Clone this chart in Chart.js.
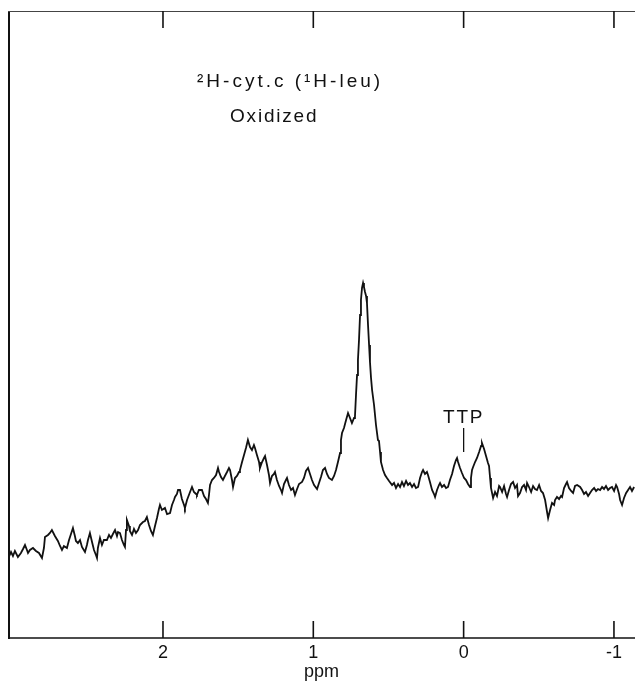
<!DOCTYPE html>
<html>
<head>
<meta charset="utf-8">
<script src="https://cdn.jsdelivr.net/npm/chart.js@4.4.1/dist/chart.umd.min.js"></script>
<style>
  html, body { margin: 0; padding: 0; background: #ffffff; }
  #wrap { width: 635px; height: 685px; position: relative; }
</style>
</head>
<body>
<div id="wrap"><canvas id="spectrum" width="635" height="685"></canvas></div>
<script>
// Chemical shift (ppm) of each sampled point of the trace, high field to the right
const ppm = [
  3.025, 3.011, 2.998, 2.985, 2.965, 2.945, 2.931, 2.918, 2.905, 2.898,
  2.885, 2.865, 2.845, 2.825, 2.805, 2.792, 2.785, 2.765, 2.752, 2.739,
  2.719, 2.699, 2.685, 2.672, 2.659, 2.639, 2.625, 2.612, 2.599, 2.586,
  2.579, 2.566, 2.552, 2.539, 2.519, 2.506, 2.499, 2.486, 2.472, 2.459,
  2.446, 2.439, 2.433, 2.419, 2.406, 2.393, 2.373, 2.359, 2.346, 2.333,
  2.319, 2.306, 2.299, 2.286, 2.273, 2.260, 2.253, 2.246, 2.240, 2.226,
  2.220, 2.206, 2.193, 2.180, 2.166, 2.153, 2.133, 2.120, 2.107, 2.093,
  2.080, 2.067, 2.053, 2.040, 2.027, 2.020, 2.007, 1.987, 1.973, 1.953,
  1.940, 1.927, 1.920, 1.907, 1.900, 1.887, 1.874, 1.860, 1.854, 1.840,
  1.820, 1.807, 1.794, 1.780, 1.774, 1.761, 1.741, 1.727, 1.714, 1.701,
  1.694, 1.687, 1.674, 1.661, 1.647, 1.634, 1.627, 1.614, 1.601, 1.588,
  1.574, 1.561, 1.554, 1.541, 1.534, 1.521, 1.508, 1.494, 1.488, 1.474,
  1.461, 1.448, 1.435, 1.421, 1.408, 1.395, 1.388, 1.375, 1.361, 1.355,
  1.341, 1.328, 1.321, 1.308, 1.295, 1.288, 1.275, 1.262, 1.255, 1.242,
  1.228, 1.215, 1.208, 1.195, 1.182, 1.175, 1.162, 1.148, 1.135, 1.122,
  1.108, 1.095, 1.075, 1.062, 1.049, 1.035, 1.022, 1.009, 0.995, 0.975,
  0.962, 0.949, 0.936, 0.922, 0.909, 0.896, 0.876, 0.862, 0.849, 0.836,
  0.822, 0.816, 0.809, 0.796, 0.782, 0.769, 0.756, 0.743, 0.729, 0.723,
  0.716, 0.709, 0.703, 0.696, 0.689, 0.683, 0.676, 0.669, 0.663, 0.656,
  0.649, 0.643, 0.636, 0.629, 0.623, 0.616, 0.609, 0.596, 0.583, 0.570,
  0.563, 0.556, 0.550, 0.536, 0.523, 0.510, 0.496, 0.476, 0.463, 0.450,
  0.436, 0.423, 0.410, 0.397, 0.383, 0.370, 0.357, 0.343, 0.330, 0.317,
  0.303, 0.290, 0.277, 0.270, 0.257, 0.244, 0.237, 0.224, 0.210, 0.197,
  0.190, 0.177, 0.164, 0.157, 0.144, 0.130, 0.117, 0.104, 0.091, 0.077,
  0.064, 0.051, 0.044, 0.037, 0.024, 0.011, -0.003, -0.016, -0.029, -0.043,
  -0.049, -0.056, -0.063, -0.076, -0.089, -0.103, -0.116, -0.122, -0.136, -0.149,
  -0.162, -0.169, -0.176, -0.182, -0.196, -0.209, -0.222, -0.236, -0.242, -0.256,
  -0.269, -0.282, -0.289, -0.302, -0.315, -0.329, -0.342, -0.355, -0.362, -0.375,
  -0.389, -0.402, -0.415, -0.422, -0.435, -0.449, -0.462, -0.475, -0.488, -0.502,
  -0.515, -0.528, -0.542, -0.555, -0.562, -0.575, -0.588, -0.602, -0.608, -0.621,
  -0.635, -0.648, -0.655, -0.668, -0.681, -0.688, -0.701, -0.715, -0.728, -0.741,
  -0.755, -0.775, -0.788, -0.801, -0.814, -0.828, -0.841, -0.854, -0.868, -0.881,
  -0.894, -0.908, -0.921, -0.934, -0.947, -0.961, -0.974, -0.987, -1.001, -1.014,
  -1.021, -1.034, -1.041, -1.054, -1.067, -1.081, -1.094, -1.107, -1.120, -1.134
];

// Signal intensity (arbitrary units) at each of the shifts above
const signal = [
  81, 86, 82, 87, 81, 85, 89, 93, 88, 85,
  88, 90, 87, 85, 80, 90, 101, 103, 105, 108,
  102, 97, 92, 88, 92, 90, 98, 104, 110, 102,
  97, 95, 98, 91, 86, 93, 98, 105, 96, 88,
  83, 80, 90, 100, 93, 98, 98, 103, 100, 104,
  108, 102, 106, 105, 98, 93, 91, 108, 118, 112,
  107, 103, 109, 105, 108, 113, 116, 117, 121, 113,
  107, 103, 112, 120, 129, 133, 128, 130, 124, 125,
  133, 138, 141, 144, 148, 148, 139, 133, 130, 138,
  146, 151, 146, 144, 143, 148, 148, 142, 139, 135,
  143, 153, 158, 160, 163, 170, 166, 161, 158, 162,
  166, 170, 168, 158, 151, 160, 162, 166, 168, 176,
  183, 190, 198, 191, 188, 193, 190, 183, 176, 170,
  176, 180, 182, 173, 163, 155, 162, 164, 166, 158,
  152, 148, 145, 154, 158, 160, 153, 148, 150, 143,
  149, 154, 156, 160, 167, 170, 164, 158, 153, 149,
  155, 161, 168, 170, 164, 160, 158, 162, 168, 176,
  185, 198, 205, 210, 218, 225, 220, 215, 220, 221,
  243, 263, 278, 298, 323, 338, 350, 355, 351, 346,
  342, 335, 313, 293, 276, 260, 248, 233, 213, 198,
  197, 186, 176, 168, 163, 160, 157, 153, 155, 150,
  154, 151, 156, 152, 157, 153, 155, 151, 154, 150,
  151, 160, 166, 168, 164, 166, 163, 156, 148, 144,
  141, 148, 153, 155, 151, 153, 150, 151, 158, 164,
  172, 178, 180, 176, 170, 165, 160, 158, 154, 151,
  160, 168, 171, 176, 180, 186, 192, 195, 189, 182,
  175, 172, 160, 150, 140, 146, 142, 152, 151, 146,
  152, 144, 141, 148, 154, 156, 150, 153, 142, 145,
  151, 153, 148, 155, 151, 146, 152, 149, 148, 153,
  147, 145, 138, 126, 120, 128, 135, 133, 138, 141,
  139, 142, 141, 150, 154, 156, 150, 147, 145, 152,
  153, 151, 148, 144, 146, 142, 145, 148, 150, 147,
  149, 148, 151, 149, 152, 148, 150, 151, 147, 153,
  151, 144, 138, 133, 140, 145, 148, 151, 147, 151
];

// Axis extent and labelled ticks
const ppmRange = [-1.14, 3.031];
const intensityRange = [0, 627];
const tickValues = [2, 1, 0, -1];
const tickLabels = ['2', '1', '0', '-1'];

// Text annotations
const sampleLines = ['\u00B2H-cyt.c (\u00B9H-leu)', 'Oxidized'];
const markerLabel = 'TTP';
const markerShift = 0;          // ppm of the TTP reference line
const markerSpan = [186, 210];  // intensity range of the reference stroke
const markerTextAt = 215;       // intensity at the label baseline

const ink = '#111111';
const fontFamily = '"Liberation Sans", Arial, sans-serif';

const points = ppm.map((p, i) => ({ x: p, y: signal[i] }));

const framePlugin = {
  id: 'frame',
  afterDraw(chart) {
    const { ctx, chartArea: a, scales } = chart;
    const xs = scales.x, ys = scales.y;
    const spacing = v => { if ('letterSpacing' in ctx) ctx.letterSpacing = v; };
    ctx.save();
    ctx.strokeStyle = ink;
    ctx.lineCap = 'butt';

    // left edge
    ctx.lineWidth = 2;
    ctx.beginPath(); ctx.moveTo(a.left + 1, a.top); ctx.lineTo(a.left + 1, a.bottom + 1); ctx.stroke();
    // bottom edge
    ctx.lineWidth = 1.6;
    ctx.beginPath(); ctx.moveTo(a.left, a.bottom); ctx.lineTo(a.right, a.bottom); ctx.stroke();
    // top edge
    ctx.lineWidth = 1.2;
    ctx.strokeStyle = '#444444';
    ctx.beginPath(); ctx.moveTo(a.left, a.top + 0.5); ctx.lineTo(a.right, a.top + 0.5); ctx.stroke();

    // inward tick marks on both horizontal edges
    ctx.strokeStyle = ink;
    ctx.lineWidth = 1.6;
    tickValues.forEach(v => {
      const px = xs.getPixelForValue(v);
      ctx.beginPath(); ctx.moveTo(px, a.bottom); ctx.lineTo(px, a.bottom - 17); ctx.stroke();
      ctx.beginPath(); ctx.moveTo(px, a.top); ctx.lineTo(px, a.top + 17); ctx.stroke();
    });

    // sample description
    ctx.fillStyle = ink;
    ctx.font = '19px ' + fontFamily;
    ctx.textBaseline = 'alphabetic';
    ctx.textAlign = 'left';
    spacing('3px');
    ctx.fillText(sampleLines[0], a.left + 189, a.top + 76);
    spacing('1.8px');
    ctx.fillText(sampleLines[1], a.left + 222, a.top + 111);

    // TTP reference marker
    const mx = xs.getPixelForValue(markerShift);
    ctx.textAlign = 'center';
    ctx.fillText(markerLabel, mx, ys.getPixelForValue(markerTextAt));
    spacing('0px');
    ctx.lineWidth = 1.3;
    ctx.beginPath();
    ctx.moveTo(mx, ys.getPixelForValue(markerSpan[1]));
    ctx.lineTo(mx, ys.getPixelForValue(markerSpan[0]));
    ctx.stroke();
    ctx.restore();
  }
};

new Chart(document.getElementById('spectrum'), {
  type: 'line',
  data: {
    datasets: [{
      data: points,
      borderColor: ink,
      borderWidth: 1.8,
      pointRadius: 0,
      tension: 0,
      fill: false
    }]
  },
  options: {
    responsive: false,
    animation: false,
    devicePixelRatio: 1,
    layout: { padding: { left: 8, top: 11, right: 0, bottom: 0 } },
    plugins: { legend: { display: false }, tooltip: { enabled: false } },
    scales: {
      x: {
        type: 'linear',
        reverse: true,
        min: ppmRange[0],
        max: ppmRange[1],
        afterBuildTicks(scale) { scale.ticks = tickValues.map(v => ({ value: v })); },
        afterFit(scale) { scale.height = 47; },
        grid: { display: false, drawTicks: false },
        border: { display: false },
        ticks: {
          autoSkip: false,
          maxRotation: 0,
          padding: 4,
          color: ink,
          font: { family: fontFamily, size: 18 },
          callback(value) {
            const i = tickValues.indexOf(value);
            return i >= 0 ? tickLabels[i] : '';
          }
        },
        title: {
          display: true,
          text: 'ppm',
          color: ink,
          font: { family: fontFamily, size: 18 },
          padding: { top: 0, bottom: 2 }
        }
      },
      y: {
        display: false,
        min: intensityRange[0],
        max: intensityRange[1]
      }
    }
  },
  plugins: [framePlugin]
});
</script>
</body>
</html>
